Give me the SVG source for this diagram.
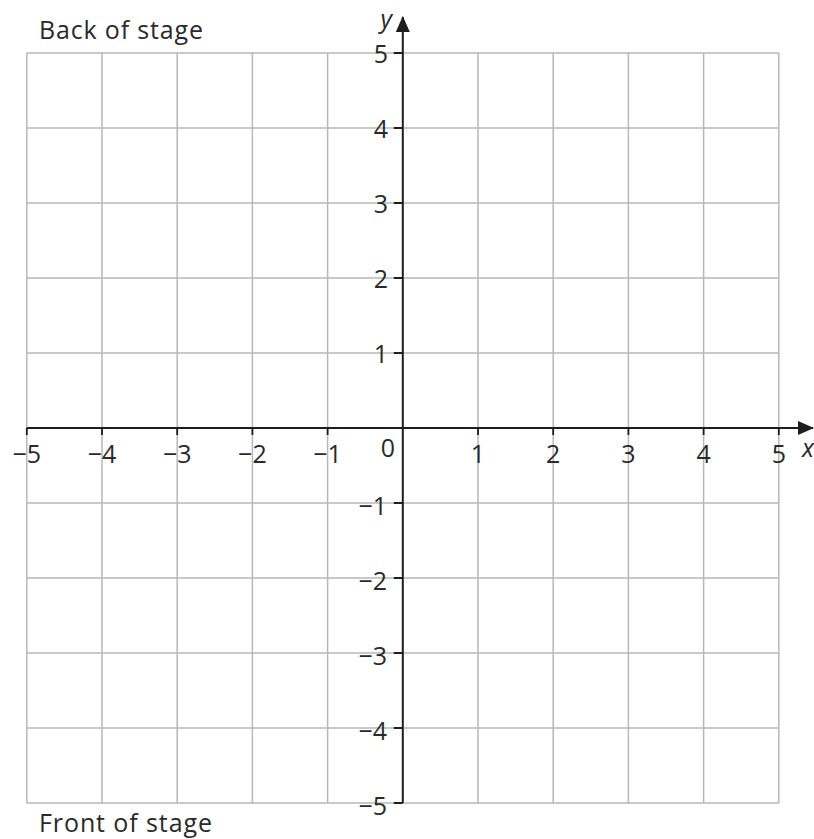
<svg xmlns="http://www.w3.org/2000/svg" width="814" height="839" viewBox="0 0 814 839">
<style>
.grid{stroke:#b8b8b8;stroke-width:1.5;fill:none}
.axis{stroke:#1e1e1e;stroke-width:2;fill:none}
.tick{stroke:#1e1e1e;stroke-width:1.8}
.lbl{font-family:"Open Sans","Liberation Sans",sans-serif;font-size:25px;fill:#2a2a2a}
.xl{text-anchor:middle}
.yl{text-anchor:end}
.var{font-family:"Open Sans","Liberation Sans",sans-serif;font-size:25px;font-style:italic;fill:#2a2a2a}
</style>
<defs>
<marker id="arr" viewBox="0 0 16 14" refX="15" refY="7" markerWidth="16" markerHeight="14" markerUnits="userSpaceOnUse" orient="auto">
<path d="M0,0 L16,7 L0,14 Z" fill="#1e1e1e"/>
</marker>
</defs>
<rect width="814" height="839" fill="#ffffff"/>
<g id="grid">
<path class="grid" d="M26.8,53V803M102,53V803M177.2,53V803M252.4,53V803M327.6,53V803M478,53V803M553.2,53V803M628.4,53V803M703.6,53V803M778.8,53V803"/>
<path class="grid" d="M26.8,53H778.8M26.8,128H778.8M26.8,203H778.8M26.8,278H778.8M26.8,353H778.8M26.8,503H778.8M26.8,578H778.8M26.8,653H778.8M26.8,728H778.8M26.8,803H778.8"/>
</g>
<g id="axes">
<path id="x-axis" class="axis" d="M26.8,428H813" marker-end="url(#arr)"/>
<path id="y-axis" class="axis" d="M402.8,803V17" marker-end="url(#arr)"/>
<path class="tick" d="M26.8,428v7M102,428v7M177.2,428v7M252.4,428v7M327.6,428v7M478,428v7M553.2,428v7M628.4,428v7M703.6,428v7M778.8,428v7"/>
<path class="tick" d="M402.8,53h-9M402.8,128h-9M402.8,203h-9M402.8,278h-9M402.8,353h-9M402.8,503h-9M402.8,578h-9M402.8,653h-9M402.8,728h-9M402.8,803h-9"/>
</g>
<g id="x-labels" class="lbl xl">
<text x="26.8" y="463">−5</text>
<text x="102" y="463">−4</text>
<text x="177.2" y="463">−3</text>
<text x="252.4" y="463">−2</text>
<text x="327.6" y="463">−1</text>
<text x="388" y="457">0</text>
<text x="478" y="463">1</text>
<text x="553.2" y="463">2</text>
<text x="628.4" y="463">3</text>
<text x="703.6" y="463">4</text>
<text x="778.8" y="463">5</text>
</g>
<g id="y-labels" class="lbl yl">
<text x="388" y="63">5</text>
<text x="388" y="138">4</text>
<text x="388" y="213">3</text>
<text x="388" y="288">2</text>
<text x="388" y="363">1</text>
<text x="387" y="515">−1</text>
<text x="387" y="590">−2</text>
<text x="387" y="665">−3</text>
<text x="387" y="740">−4</text>
<text x="387" y="815">−5</text>
</g>
<text class="var" x="392" y="28" text-anchor="end">y</text>
<text class="var" x="802" y="457">x</text>
<g id="back-of-stage"><text class="lbl" x="39" y="39" textLength="164" lengthAdjust="spacing">Back of stage</text></g>
<g id="front-of-stage"><text class="lbl" x="39" y="832" textLength="173" lengthAdjust="spacing">Front of stage</text></g>
</svg>
